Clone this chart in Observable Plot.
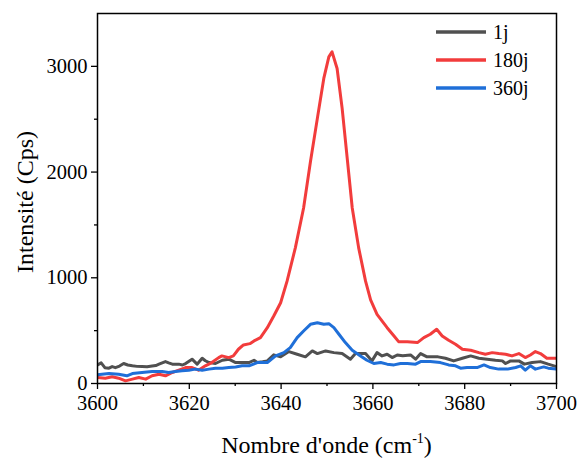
<!DOCTYPE html>
<html><head><meta charset="utf-8">
<script src="https://cdn.jsdelivr.net/npm/d3@7"></script>
<script src="https://cdn.jsdelivr.net/npm/@observablehq/plot@0.6"></script>
<style>body{margin:0;background:#fff} svg text{font-family:"Liberation Serif","Tinos","Times New Roman","DejaVu Serif",serif !important;}</style>
</head><body><div id="chart"></div>
<script>
const seriesNames = ["1j", "180j", "360j"];
const seriesColors = ["#505050", "#f23c3c", "#1f6fd8"];

const x1j = [3600,3600.8,3601.6,3602.5,3603.2,3603.9,3604.8,3605.7,3606.6,3607.6,3608.6,3609.7,3610.8,3611.9,3612.7,3613.4,3614.8,3615.5,3616.3,3617.7,3618.5,3619.2,3620.6,3621.7,3622.8,3623.5,3624.3,3625.7,3627.2,3628.6,3630.1,3631.5,3633.0,3634.1,3634.8,3636.0,3637.0,3638.4,3639.9,3641.7,3643.5,3645.3,3646.8,3647.9,3649.7,3651.5,3653.3,3655.1,3656.2,3658.4,3659.8,3660.9,3662.0,3663.1,3664.2,3665.3,3666.5,3668.2,3669.3,3670.4,3671.8,3674.2,3675.8,3677.6,3679.5,3681.3,3683.1,3684.9,3686.7,3688.2,3688.9,3690.0,3691.8,3693.0,3694.7,3696.5,3698.2,3700];
const y1j = [175,195,150,145,160,150,165,189,175,167,162,160,158,165,170,183,207,195,183,183,175,189,230,183,239,215,198,189,220,230,198,198,198,220,198,205,214,271,252,302,277,252,308,283,308,292,283,230,283,283,214,292,261,277,245,270,262,270,230,283,252,252,239,214,239,261,239,230,220,214,189,214,214,183,198,207,183,160];

const x180j = [3600,3601.7,3603.2,3604.6,3606.1,3607.6,3609.0,3610.5,3611.9,3613.4,3614.8,3616.3,3617.7,3619.2,3620.6,3622.0,3623.5,3624.9,3626.4,3627.1,3628.6,3629.6,3630.7,3631.8,3633.2,3634.1,3635.5,3637.0,3638.4,3639.9,3641.3,3643.1,3644.9,3646.4,3647.9,3649.3,3650.4,3651.1,3652.2,3653.3,3654.4,3655.5,3656.9,3658.4,3659.5,3660.9,3663.1,3664.6,3665.6,3667.5,3669.7,3671.1,3672.5,3673.9,3675.1,3676.5,3678.0,3679.5,3681.3,3683.1,3684.5,3686.0,3687.4,3688.9,3690.3,3691.8,3693.2,3694.3,3695.4,3696.5,3697.9,3700];
const y180j = [57,50,63,50,25,41,57,41,73,88,73,104,126,151,151,126,167,198,245,261,245,261,324,365,377,403,434,528,638,764,968,1283,1660,2100,2508,2886,3090,3137,2980,2603,2131,1660,1283,968,790,654,528,450,396,396,387,434,466,513,450,409,371,324,315,292,277,292,283,277,261,283,245,270,302,283,239,239];

const x360j = [3600,3602.5,3604.6,3606.4,3607.6,3609.7,3611.9,3614.1,3615.5,3617.0,3618.4,3619.9,3621.3,3622.8,3624.3,3625.7,3627.2,3628.6,3630.1,3631.5,3633.0,3634.8,3637.0,3638.8,3640.6,3642.0,3643.5,3644.9,3646.4,3647.9,3649.3,3650.4,3651.5,3652.6,3654.0,3655.5,3657.3,3658.7,3660.2,3661.7,3663.1,3664.6,3666.0,3667.5,3669.3,3670.4,3672.5,3674.7,3676.5,3678.0,3679.1,3680.5,3682.7,3684.2,3685.6,3687.4,3689.3,3691.1,3692.2,3693.2,3694.3,3695.4,3697.2,3698.2,3700];
const y360j = [82,94,88,73,94,104,113,113,104,113,120,126,136,126,136,145,145,151,157,167,167,198,198,261,292,339,434,497,560,575,560,566,528,466,387,315,261,220,189,198,183,176,189,189,183,207,207,198,176,167,145,151,151,176,151,136,136,151,167,126,167,136,157,145,136];

const xMajorTicks = [3600,3620,3640,3660,3680,3700];
const xMinorTicks = [3610,3630,3650,3670,3690];
const yMajorTicks = [0,1000,2000,3000];
const yMinorTicks = [500,1500,2500];

const data = [
  ...x1j.map((x,i)=>({x, y:y1j[i], s:seriesNames[0]})),
  ...x180j.map((x,i)=>({x, y:y180j[i], s:seriesNames[1]})),
  ...x360j.map((x,i)=>({x, y:y360j[i], s:seriesNames[2]}))
];

const FONT = "'Liberation Serif', 'Tinos', 'Times New Roman', 'DejaVu Serif', serif";
const chart = Plot.plot({
  width: 581, height: 462,
  marginLeft: 97, marginRight: 25, marginTop: 13, marginBottom: 79,
  style: {fontFamily: FONT, fontSize: "20.5px", color: "#000", background: "#fff", overflow: "visible"},
  x: {domain: [3600, 3700]},
  y: {domain: [0, 3500]},
  color: {domain: seriesNames, range: seriesColors},
  marks: [
    Plot.line(data, {x: "x", y: "y", stroke: "s", strokeWidth: 3, clip: true}),
    Plot.axisX({ticks: xMinorTicks, tickSize: 3, tickFormat: () => "", label: null, strokeWidth: 1.3}),
    Plot.axisX({ticks: xMajorTicks, tickSize: 6, tickPadding: 6, tickFormat: d => String(d), label: null, strokeWidth: 1.3}),
    Plot.axisY({ticks: yMinorTicks, tickSize: 3, tickFormat: () => "", label: null, strokeWidth: 1.3}),
    Plot.axisY({ticks: yMajorTicks, tickSize: 6, tickPadding: 4, tickFormat: d => String(d), label: null, strokeWidth: 1.3}),
    Plot.frame({stroke: "#000", strokeWidth: 1.5})
  ]
});
document.getElementById("chart").appendChild(chart);

const svg = d3.select(chart);
// axis titles
const xl = svg.append("text").attr("x", 326.5).attr("y", 453).attr("text-anchor", "middle")
  .attr("font-size", 24).attr("fill", "#000");
xl.append("tspan").text("Nombre d'onde (cm");
xl.append("tspan").attr("font-size", 14).attr("dy", -10).text("-1");
xl.append("tspan").attr("dy", 10).text(")");
svg.append("text").attr("transform", "translate(33,202) rotate(-90)").attr("text-anchor", "middle")
  .attr("font-size", 24).attr("fill", "#000").text("Intensité (Cps)");
// legend
const lg = svg.append("g");
seriesNames.forEach((n, i) => {
  const yy = 32 + i * 28;
  lg.append("line").attr("x1", 436).attr("x2", 486).attr("y1", yy).attr("y2", yy)
    .attr("stroke", seriesColors[i]).attr("stroke-width", 3.5);
  lg.append("text").attr("x", 493).attr("y", yy + 7).attr("font-size", 20).attr("text-anchor", "start")
    .attr("fill", "#000").text(n);
});
</script></body></html>
